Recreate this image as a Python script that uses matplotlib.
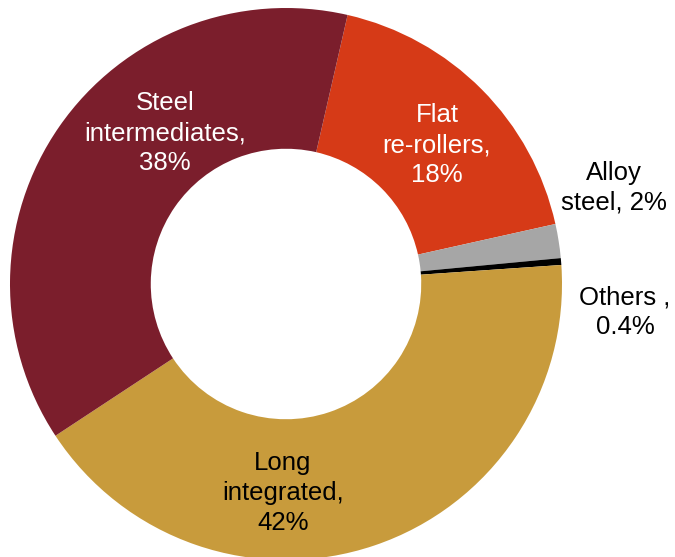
import matplotlib
matplotlib.use("Agg")
import matplotlib.pyplot as plt

plt.rcParams['font.family'] = ['Liberation Sans', 'DejaVu Sans']

categories = ["Flat re-rollers", "Alloy steel", "Others", "Long integrated", "Steel intermediates"]
values = [18, 2, 0.4, 42, 38]
colors = ["#D63A17", "#A6A6A6", "#000000", "#C89B3C", "#7B1E2C"]

labels = ["Flat\nre-rollers,\n18%", "Alloy\nsteel, 2%", "Others ,\n0.4%",
          "Long\nintegrated,\n42%", "Steel\nintermediates,\n38%"]
label_colors = ["white", "black", "black", "black", "white"]
label_px = [(437, 145), (614, 188), (625, 312), (283, 493), (165, 133)]

W, H = 675, 557
fig = plt.figure(figsize=(W / 100, H / 100), dpi=100)
cx, cy, R = 286, 284, 276
ax = fig.add_axes([(cx - R) / W, (H - cy - R) / H, 2 * R / W, 2 * R / H])
ax.pie(values, colors=colors, startangle=77.1, counterclock=False, radius=1,
       wedgeprops=dict(width=0.51, edgecolor='none'))
ax.set_xlim(-1, 1)
ax.set_ylim(-1, 1)
ax.set_aspect('equal')
ax.axis('off')

for lab, col, (px, py) in zip(labels, label_colors, label_px):
    ax.text((px - cx) / R, (cy - py) / R, lab, color=col, fontsize=18.5,
            ha='center', va='center', linespacing=1.3, clip_on=False)

fig.savefig("out.png", dpi=100)
